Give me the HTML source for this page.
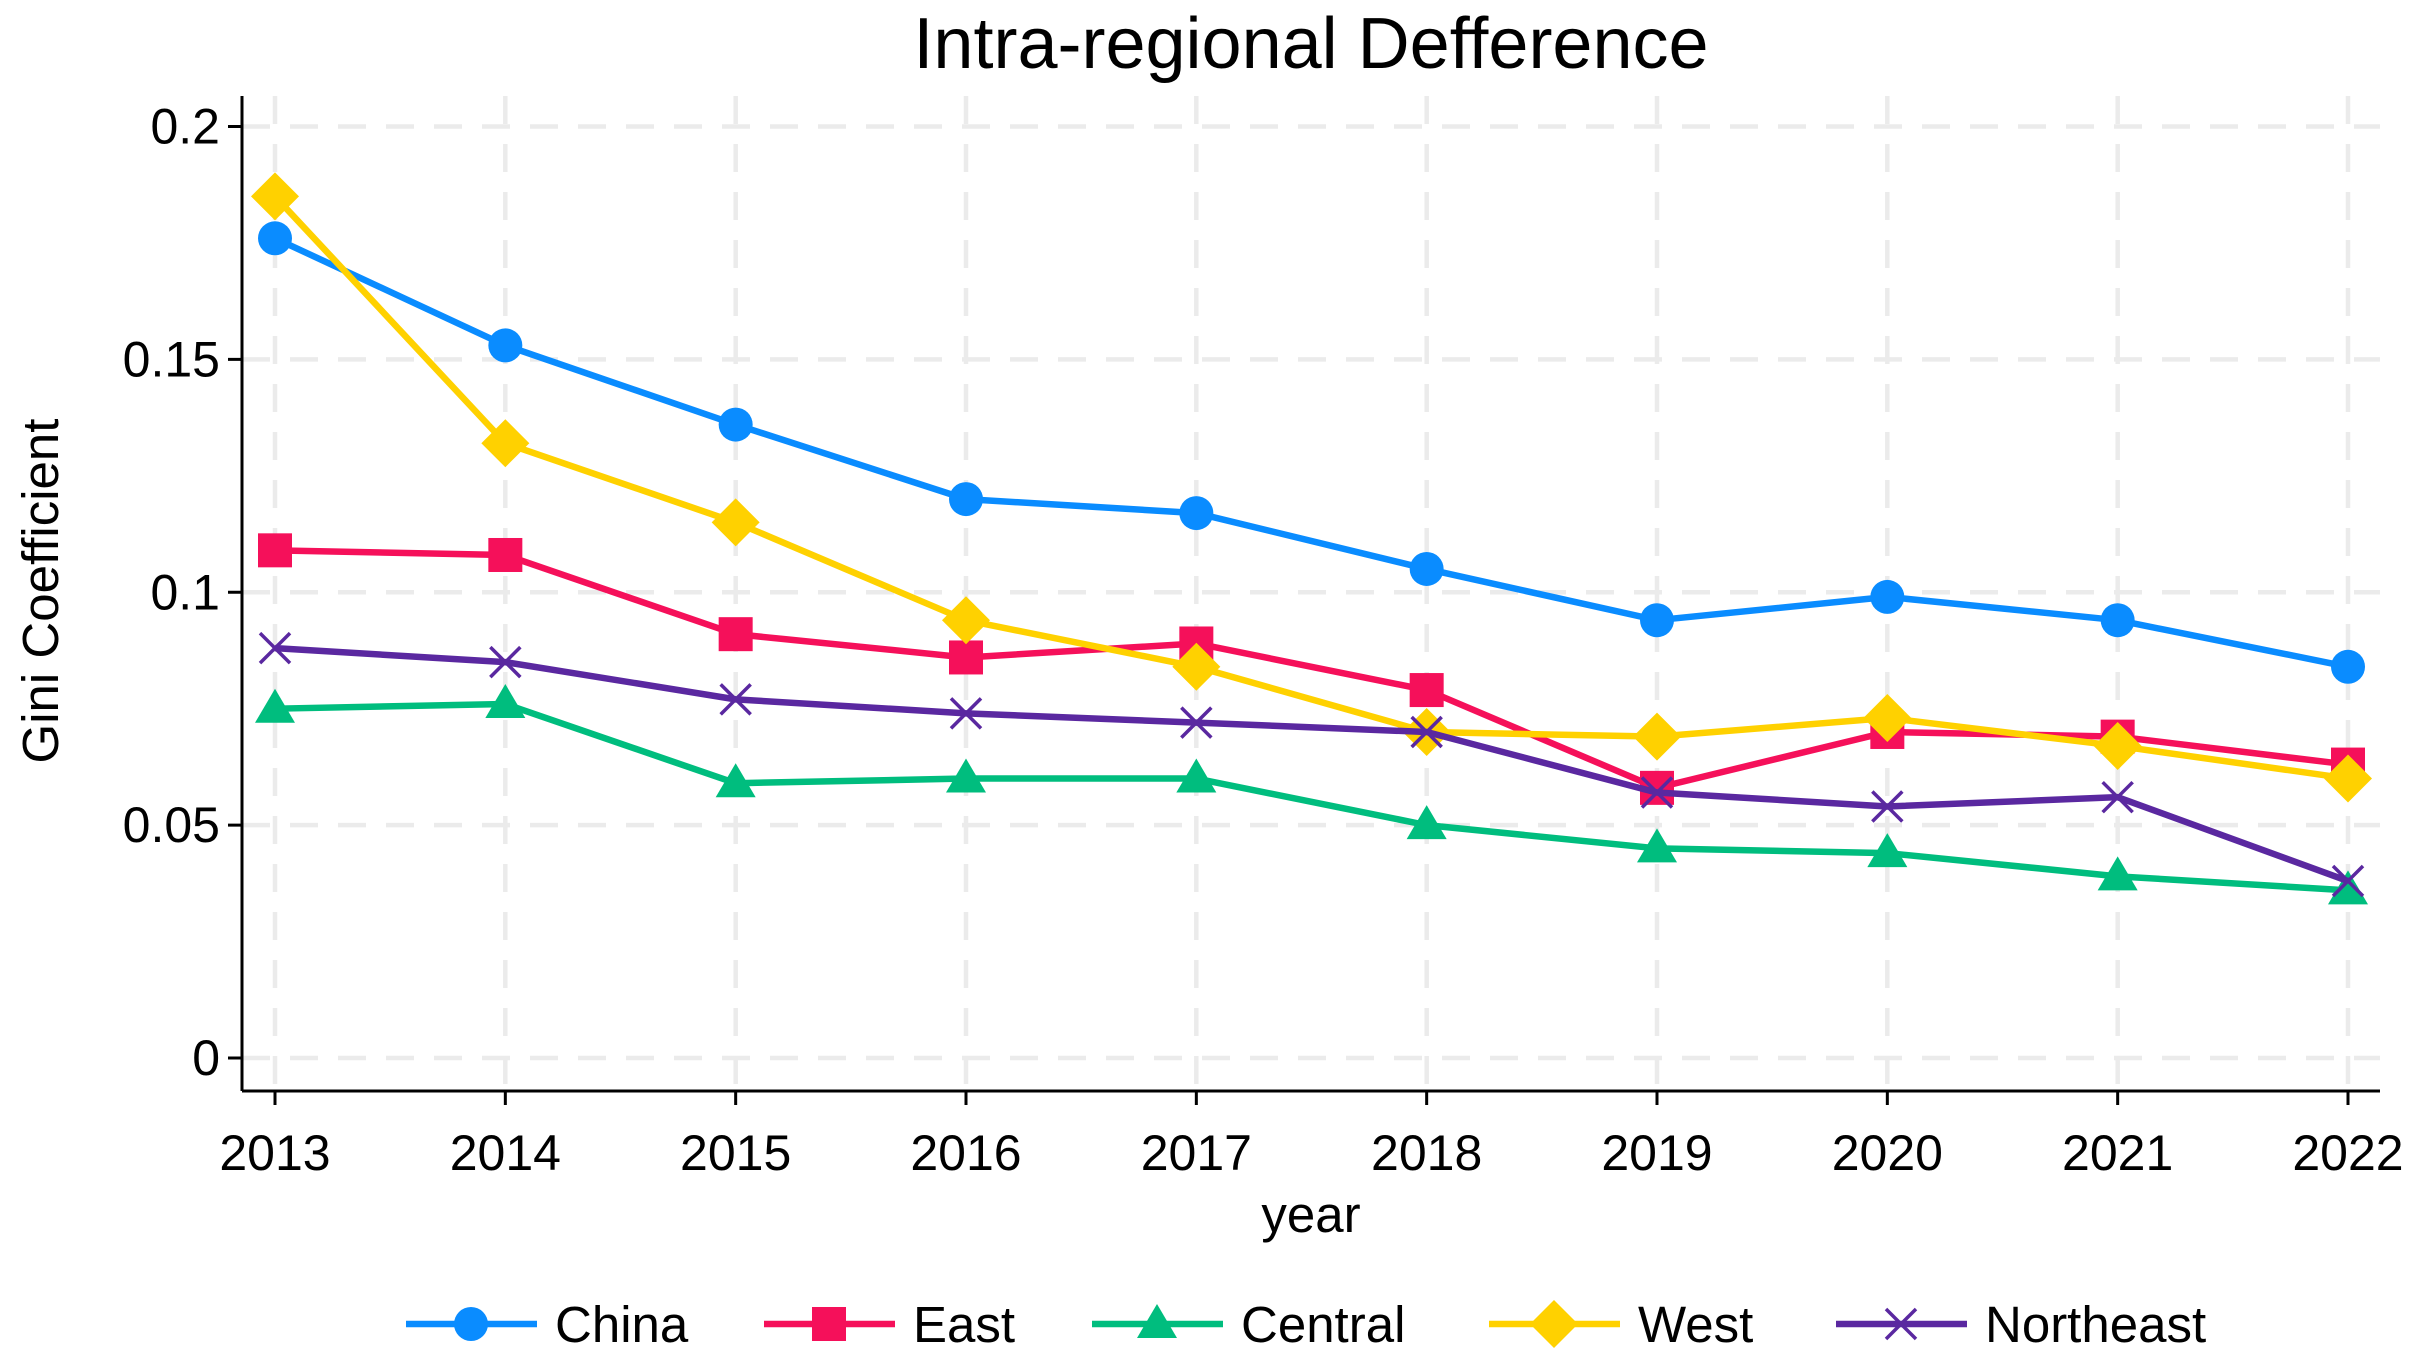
<!DOCTYPE html>
<html><head><meta charset="utf-8"><style>
html,body{margin:0;padding:0;background:#fff;}
svg{display:block;font-family:"Liberation Sans",Arial,sans-serif;}
</style></head><body>
<svg id="chart" width="2419" height="1361" viewBox="0 0 2419 1361" xmlns="http://www.w3.org/2000/svg">
<rect width="2419" height="1361" fill="#fff"/>
<text x="1311" y="68" font-size="72" text-anchor="middle">Intra-regional Defference</text>
<g id="grid"></g><g id="axes"></g><g id="series"></g><g id="legend"></g>
<text x="1311" y="1232" font-size="51" text-anchor="middle">year</text>
<text transform="translate(58,591) rotate(-90)" font-size="51" text-anchor="middle">Gini Coefficient</text>
</svg>
<script>
const years = [2013,2014,2015,2016,2017,2018,2019,2020,2021,2022];
const yTicks = [0,0.05,0.1,0.15,0.2];
const yTickLabels = ["0","0.05","0.1","0.15","0.2"];
const seriesNames = ["China","East","Central","West","Northeast"];
const china = [0.176,0.153,0.136,0.120,0.117,0.105,0.094,0.099,0.094,0.084];
const east = [0.109,0.108,0.091,0.086,0.089,0.079,0.058,0.070,0.069,0.063];
const central = [0.075,0.076,0.059,0.060,0.060,0.050,0.045,0.044,0.039,0.036];
const west = [0.185,0.132,0.115,0.094,0.084,0.070,0.069,0.073,0.067,0.060];
const northeast = [0.088,0.085,0.077,0.074,0.072,0.070,0.057,0.054,0.056,0.038];

const NS="http://www.w3.org/2000/svg";
const X0=275,X1=2348,Y0=1058,Y1=126.5;
const xs=y=>X0+(y-years[0])/(years[years.length-1]-years[0])*(X1-X0);
const ys=v=>Y0+(v-0)/(0.2-0)*(Y1-Y0);
function mk(tag,attrs,parent){const e=document.createElementNS(NS,tag);for(const k in attrs)e.setAttribute(k,attrs[k]);parent.appendChild(e);return e;}
const grid=document.getElementById('grid'),axes=document.getElementById('axes'),ser=document.getElementById('series'),leg=document.getElementById('legend');
const PL=242,PR=2380,PT=96,PB=1091;
yTicks.forEach((t,i)=>{
 const g=mk('line',{x1:PL,x2:PR,y1:ys(t),y2:ys(t),stroke:'#ebebeb','stroke-width':4.5,'stroke-dasharray':'28 20'},grid);
 
 
 const tk=mk('line',{x1:PL-14,x2:PL,y1:ys(t),y2:ys(t),stroke:'#000','stroke-width':3},axes);
 
 
 const tx=mk('text',{x:PL-22,y:ys(t)+17,'font-size':50,'text-anchor':'end'},axes);
 tx.textContent=yTickLabels[i];
 
 
});
years.forEach(yr=>{
 const g=mk('line',{x1:xs(yr),x2:xs(yr),y1:PT,y2:PB,stroke:'#ebebeb','stroke-width':4.5,'stroke-dasharray':'28 20'},grid);
 
 
 const tk=mk('line',{x1:xs(yr),x2:xs(yr),y1:PB,y2:PB+14,stroke:'#000','stroke-width':3},axes);
 
 
 const tx=mk('text',{x:xs(yr),y:1170,'font-size':50,'text-anchor':'middle'},axes);
 tx.textContent=String(yr);
 
 
});
const ya=mk('line',{x1:PL,x2:PL,y1:PT,y2:PB,stroke:'#000','stroke-width':3},axes);


const xa=mk('line',{x1:PL,x2:PR,y1:PB,y2:PB,stroke:'#000','stroke-width':3},axes);



const colors=['#0a8cff','#f5105a','#00bd7e','#ffd100','#5a28a0'];
const shapes=['circle','square','triangle','diamond','x'];
const data=[china,east,central,west,northeast];
function marker(shape,cx,cy,col,parent){
 if(shape==='circle') return mk('circle',{cx,cy,r:17,fill:col},parent);
 if(shape==='square') return mk('rect',{x:cx-17,y:cy-17,width:34,height:34,fill:col},parent);
 if(shape==='triangle') return mk('polygon',{points:`${cx},${cy-20} ${cx+20},${cy+14} ${cx-20},${cy+14}`,fill:col},parent);
 if(shape==='diamond') return mk('polygon',{points:`${cx},${cy-24} ${cx+24},${cy} ${cx},${cy+24} ${cx-24},${cy}`,fill:col},parent);
 return mk('path',{d:`M${cx-15},${cy-15}L${cx+15},${cy+15}M${cx-15},${cy+15}L${cx+15},${cy-15}`,stroke:col,'stroke-width':3.5,fill:'none'},parent);
}
data.forEach((arr,si)=>{
 const g=mk('g',{},ser);
 
 
 const pl=mk('polyline',{points:arr.map((v,i)=>xs(years[i])+','+ys(v)).join(' '),fill:'none',stroke:colors[si],'stroke-width':6.5,'stroke-linejoin':'round'},g);
 
 
 arr.forEach((v,i)=>{
  const m=marker(shapes[si],xs(years[i]),ys(v),colors[si],g);
  
  
 });
});
const legX=[406,764,1092,1489,1836];
seriesNames.forEach((n,i)=>{
 const g=mk('g',{},leg);
 
 
 const ly=1324;
 mk('line',{x1:legX[i],x2:legX[i]+131,y1:ly,y2:ly,stroke:colors[i],'stroke-width':6.5},g);
 marker(shapes[i],legX[i]+65,ly,colors[i],g);
 const t=mk('text',{x:legX[i]+149,y:ly+18,'font-size':51},g);
 t.textContent=n;
});
</script>
</body></html>
